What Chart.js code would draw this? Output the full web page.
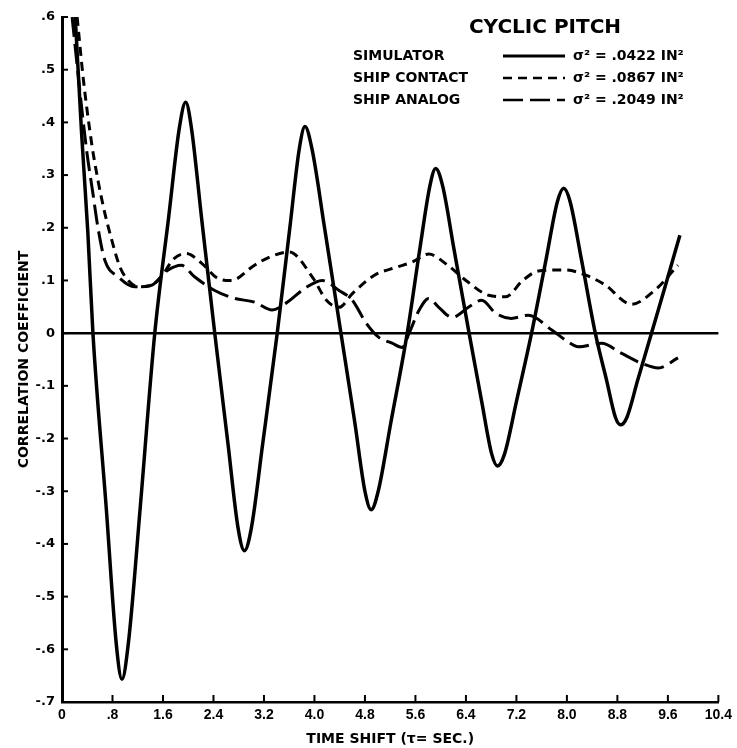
<!DOCTYPE html>
<html>
<head>
<meta charset="utf-8">
<script src="https://cdn.jsdelivr.net/npm/chart.js@4.4.1/dist/chart.umd.min.js"></script>
<style>
  body { margin: 0; background: #fff; }
  #wrap { width: 737px; height: 748px; position: relative; }
</style>
</head>
<body>
<div id="wrap"><canvas id="corr"></canvas></div>
<script>
// time shift (sec) and correlation values
var simX = [0.21, 0.31, 0.41, 0.49, 0.70, 0.86, 0.95, 1.05, 1.24, 1.47, 1.69, 1.86, 1.96, 2.05, 2.21, 2.42,
    2.63, 2.79, 2.89, 3.00, 3.18, 3.41, 3.61, 3.76, 3.85, 3.96, 4.16, 4.42, 4.64, 4.80, 4.90, 5.01, 5.21,
    5.47, 5.67, 5.83, 5.92, 6.03, 6.21, 6.45, 6.65, 6.81, 6.90, 7.01, 7.20, 7.44, 7.67, 7.85, 7.95, 8.05,
    8.23, 8.45, 8.63, 8.77, 8.85, 8.95, 9.12, 9.34, 9.56, 9.79];
var simY = [0.60, 0.38, 0.19, 0.00, -0.33, -0.59, -0.657, -0.59, -0.33, 0.00, 0.22, 0.39, 0.438, 0.39, 0.22, 0.00,
    -0.21, -0.37, -0.413, -0.37, -0.21, 0.00, 0.20, 0.35, 0.392, 0.35, 0.20, 0.00, -0.17, -0.30, -0.335, -0.30, -0.17,
    0.00, 0.16, 0.28, 0.3125, 0.28, 0.16, 0.00, -0.13, -0.23, -0.252, -0.23, -0.13, 0.00, 0.14, 0.25, 0.275, 0.25,
    0.14, 0.00, -0.09, -0.16, -0.174, -0.16, -0.09, 0.00, 0.09, 0.186];

var contactX = [0.24, 0.34, 0.47, 0.57, 0.68, 0.79, 0.92, 1.05, 1.21, 1.42, 1.57, 1.78, 1.97, 2.21, 2.47, 2.68,
    3.05, 3.30, 3.60, 3.97, 4.19, 4.39, 4.60, 4.95, 5.30, 5.55, 5.81, 6.10, 6.40, 6.76, 7.03, 7.30, 7.55,
    7.97, 8.30, 8.60, 9.02, 9.39, 9.76];
var contactY = [0.60, 0.48, 0.36, 0.29, 0.227, 0.176, 0.125, 0.10, 0.088, 0.091, 0.107, 0.142, 0.151, 0.133, 0.104, 0.10,
    0.129, 0.145, 0.154, 0.106, 0.0625, 0.049, 0.075, 0.11, 0.125, 0.135, 0.15, 0.13, 0.10, 0.072, 0.069, 0.10, 0.118,
    0.12, 0.11, 0.092, 0.055, 0.081, 0.129];

var analogX = [0.16, 0.26, 0.39, 0.49, 0.57, 0.68, 0.89, 1.15, 1.42, 1.67, 1.89, 2.10, 2.42, 2.73, 3.05, 3.33,
    3.55, 3.87, 4.12, 4.39, 4.60, 4.82, 5.02, 5.23, 5.39, 5.50, 5.66, 5.81, 5.97, 6.18, 6.45, 6.65, 6.87,
    7.12, 7.39, 7.76, 8.00, 8.18, 8.55, 8.86, 9.18, 9.45, 9.76];
var analogY = [0.60, 0.485, 0.347, 0.265, 0.20, 0.138, 0.107, 0.088, 0.091, 0.119, 0.129, 0.107, 0.081, 0.066, 0.059, 0.044,
    0.057, 0.087, 0.10, 0.081, 0.0625, 0.019, -0.008, -0.019, -0.027, 0.0, 0.044, 0.066, 0.049, 0.03, 0.05, 0.0625, 0.038,
    0.028, 0.034, 0.006, -0.015, -0.026, -0.019, -0.038, -0.057, -0.066, -0.047];

var seriesNames = ["SIMULATOR", "SHIP CONTACT", "SHIP ANALOG"];
var seriesVariance = [".0422", ".0867", ".2049"];

var xTicks = [0, 0.8, 1.6, 2.4, 3.2, 4.0, 4.8, 5.6, 6.4, 7.2, 8.0, 8.8, 9.6, 10.4];
var xTickLabels = ["0", ".8", "1.6", "2.4", "3.2", "4.0", "4.8", "5.6", "6.4", "7.2", "8.0", "8.8", "9.6", "10.4"];
var yTicks = [-0.7, -0.6, -0.5, -0.4, -0.3, -0.2, -0.1, 0, 0.1, 0.2, 0.3, 0.4, 0.5, 0.6];
var yTickLabels = ["-.7", "-.6", "-.5", "-.4", "-.3", "-.2", "-.1", "0", ".1", ".2", ".3", ".4", ".5", ".6"];

var dashes = [[], [9, 6], [20, 7]];
var widths = [3.5, 3, 3];

function pts(xs, ys) {
    return xs.map(function (x, i) { return { x: x, y: ys[i] }; });
}
function labelFor(list, labels, v) {
    for (var i = 0; i < list.length; i++) {
        if (Math.abs(list[i] - v) < 1e-6) return labels[i];
    }
    return "";
}

var bold = "'DejaVu Sans', sans-serif";

// inward tick marks, zero line and the hand-lettered legend
var extras = {
    id: 'extras',
    afterDatasetsDraw: function (chart) {
        var ctx = chart.ctx, xs = chart.scales.x, ys = chart.scales.y;
        ctx.save();
        ctx.strokeStyle = '#000';
        ctx.lineWidth = 2.5;
        // zero line
        ctx.beginPath();
        ctx.moveTo(xs.getPixelForValue(0), ys.getPixelForValue(0));
        ctx.lineTo(xs.getPixelForValue(10.4), ys.getPixelForValue(0));
        ctx.stroke();
        // ticks
        ctx.lineWidth = 2;
        yTicks.forEach(function (v) {
            var py = ys.getPixelForValue(v);
            ctx.beginPath();
            ctx.moveTo(xs.left, py);
            ctx.lineTo(xs.left + 6, py);
            ctx.stroke();
        });
        xTicks.forEach(function (v) {
            var px = xs.getPixelForValue(v);
            ctx.beginPath();
            ctx.moveTo(px, ys.bottom);
            ctx.lineTo(px, ys.bottom - 7);
            ctx.stroke();
        });

        // legend
        ctx.fillStyle = '#000';
        ctx.textBaseline = 'middle';
        ctx.textAlign = 'center';
        ctx.font = "bold 20px " + bold;
        ctx.fillText("CYCLIC PITCH", 545, 28);
        ctx.font = "bold 14px " + bold;
        var rowY = [56, 78, 100];
        seriesNames.forEach(function (name, i) {
            ctx.textAlign = 'left';
            ctx.fillText(name, 353, rowY[i]);
            ctx.fillText("\u03C3\u00B2 = " + seriesVariance[i] + " IN\u00B2", 573, rowY[i]);
            ctx.setLineDash(dashes[i]);
            ctx.lineWidth = widths[i] - 0.5;
            ctx.beginPath();
            ctx.moveTo(503, rowY[i]);
            ctx.lineTo(565, rowY[i]);
            ctx.stroke();
        });
        ctx.restore();
    }
};

var ctx = document.getElementById('corr').getContext('2d');
var chart = new Chart(ctx, {
    type: 'line',
    data: {
        datasets: [
            { label: seriesNames[0], data: pts(simX, simY), borderColor: '#000', borderWidth: widths[0],
              borderDash: dashes[0], pointRadius: 0, cubicInterpolationMode: 'monotone', fill: false },
            { label: seriesNames[1], data: pts(contactX, contactY), borderColor: '#000', borderWidth: widths[1],
              borderDash: dashes[1], pointRadius: 0, cubicInterpolationMode: 'monotone', fill: false },
            { label: seriesNames[2], data: pts(analogX, analogY), borderColor: '#000', borderWidth: widths[2],
              borderDash: dashes[2], pointRadius: 0, cubicInterpolationMode: 'monotone', fill: false }
        ]
    },
    options: {
        responsive: true,
        maintainAspectRatio: false,
        animation: false,
        layout: { padding: { top: 17, right: 15, bottom: 0, left: 0 } },
        plugins: { legend: { display: false }, tooltip: { enabled: false } },
        scales: {
            x: {
                type: 'linear',
                min: 0,
                max: 10.4,
                afterBuildTicks: function (scale) {
                    scale.ticks = xTicks.map(function (v) { return { value: v }; });
                },
                afterFit: function (scale) { scale.height = 46; },
                grid: { display: false, drawTicks: false },
                border: { display: true, color: '#000', width: 2.5 },
                ticks: {
                    color: '#000',
                    padding: 5,
                    maxRotation: 0,
                    autoSkip: false,
                    font: { family: "'Liberation Sans', sans-serif", weight: 'bold', size: 14 },
                    callback: function (v) { return labelFor(xTicks, xTickLabels, v); }
                },
                title: {
                    display: true,
                    text: "TIME SHIFT (\u03C4= SEC.)",
                    color: '#000',
                    font: { family: bold, weight: 'bold', size: 14 },
                    padding: { top: 0, bottom: 0 }
                }
            },
            y: {
                min: -0.7,
                max: 0.6,
                afterBuildTicks: function (scale) {
                    scale.ticks = yTicks.map(function (v) { return { value: v }; });
                },
                afterFit: function (scale) { scale.width = 62; },
                grid: { display: false, drawTicks: false },
                border: { display: true, color: '#000', width: 3 },
                ticks: {
                    color: '#000',
                    padding: 7,
                    autoSkip: false,
                    font: { family: bold, weight: 'bold', size: 13 },
                    callback: function (v) { return labelFor(yTicks, yTickLabels, v); }
                },
                title: {
                    display: true,
                    text: "CORRELATION COEFFICIENT",
                    color: '#000',
                    font: { family: bold, weight: 'bold', size: 14 },
                    padding: { top: 16, bottom: 0 }
                }
            }
        }
    },
    plugins: [extras]
});
</script>
</body>
</html>
